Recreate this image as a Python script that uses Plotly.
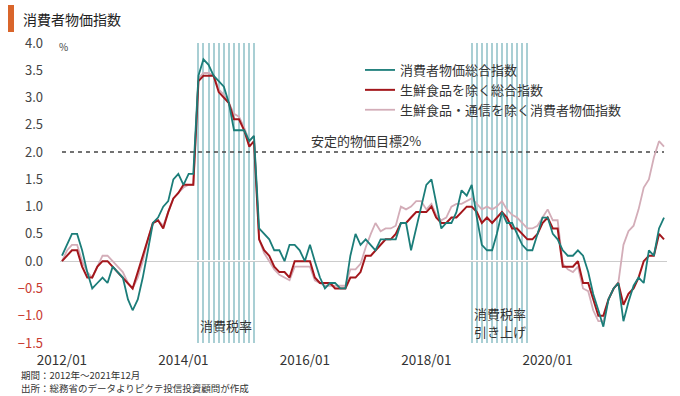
import plotly.graph_objects as go
import pandas as pd

# ---- data (YoY %, monthly 2012/01 - 2021/12) ----
months = pd.date_range("2012-01-01", "2021-12-01", freq="MS")

cpi_all = [
    0.1, 0.3, 0.5, 0.5, 0.2, -0.2, -0.5, -0.4, -0.3, -0.4, -0.1, -0.2,   # 2012
    -0.3, -0.7, -0.9, -0.7, -0.3, 0.2, 0.7, 0.8, 1.0, 1.1, 1.5, 1.6,     # 2013
    1.4, 1.6, 1.6, 3.4, 3.7, 3.6, 3.4, 3.3, 3.2, 2.9, 2.4, 2.4,          # 2014
    2.4, 2.2, 2.3, 0.6, 0.5, 0.4, 0.2, 0.2, 0.0, 0.3, 0.3, 0.2,          # 2015
    0.0, 0.3, 0.0, -0.3, -0.5, -0.4, -0.4, -0.5, -0.5, 0.1, 0.5, 0.3,    # 2016
    0.4, 0.3, 0.2, 0.4, 0.4, 0.4, 0.4, 0.7, 0.7, 0.2, 0.6, 1.0,          # 2017
    1.4, 1.5, 1.1, 0.6, 0.7, 0.7, 0.9, 1.3, 1.2, 1.4, 0.8, 0.3,          # 2018
    0.2, 0.2, 0.5, 0.9, 0.7, 0.7, 0.5, 0.3, 0.2, 0.2, 0.5, 0.8,          # 2019
    0.8, 0.5, 0.4, 0.2, 0.1, 0.1, 0.2, 0.1, -0.2, -0.6, -0.9, -1.2,      # 2020
    -0.7, -0.5, -0.4, -1.1, -0.75, -0.45, -0.3, -0.4, 0.2, 0.1, 0.6, 0.8,  # 2021
]

cpi_core = [
    0.0, 0.1, 0.2, 0.2, -0.1, -0.3, -0.3, -0.1, 0.0, 0.0, -0.1, -0.2,    # 2012
    -0.3, -0.4, -0.5, -0.2, 0.1, 0.4, 0.7, 0.75, 0.6, 0.9, 1.15, 1.25,   # 2013
    1.4, 1.4, 1.4, 3.3, 3.4, 3.4, 3.4, 3.1, 3.0, 2.9, 2.6, 2.6,          # 2014
    2.4, 2.1, 2.2, 0.4, 0.2, 0.1, -0.1, -0.2, -0.2, -0.3, 0.0, 0.0,      # 2015
    0.0, 0.0, -0.3, -0.4, -0.4, -0.4, -0.5, -0.5, -0.5, -0.3, -0.3, -0.2,  # 2016
    0.1, 0.1, 0.2, 0.3, 0.4, 0.4, 0.5, 0.7, 0.7, 0.8, 0.9, 0.9,          # 2017
    0.9, 1.0, 0.8, 0.7, 0.7, 0.8, 0.8, 0.9, 1.0, 1.0, 0.9, 0.7,          # 2018
    0.8, 0.7, 0.8, 0.9, 0.8, 0.6, 0.6, 0.5, 0.4, 0.4, 0.5, 0.7,          # 2019
    0.8, 0.6, 0.6, -0.1, -0.1, -0.1, 0.0, -0.4, -0.4, -0.7, -1.0, -1.0,  # 2020
    -0.7, -0.5, -0.4, -0.8, -0.6, -0.5, -0.3, 0.0, 0.1, 0.1, 0.5, 0.4,   # 2021
]

cpi_core_ex_tel = [
    0.0, 0.2, 0.3, 0.3, 0.0, -0.2, -0.3, -0.1, 0.1, 0.1, 0.0, -0.1,      # 2012
    -0.2, -0.4, -0.5, -0.3, 0.0, 0.4, 0.7, 0.75, 0.65, 0.9, 1.15, 1.25,  # 2013
    1.35, 1.4, 1.4, 3.35, 3.45, 3.45, 3.4, 3.15, 3.05, 2.9, 2.7, 2.65,   # 2014
    2.45, 2.2, 2.3, 0.4, 0.15, 0.0, -0.15, -0.25, -0.3, -0.35, -0.1, -0.1,  # 2015
    -0.1, -0.1, -0.35, -0.4, -0.45, -0.45, -0.45, -0.45, -0.45, -0.15, -0.15, -0.05,  # 2016
    0.25, 0.5, 0.7, 0.55, 0.6, 0.6, 0.65, 1.0, 0.95, 1.0, 1.1, 1.1,      # 2017
    0.95, 1.05, 0.85, 0.75, 0.8, 1.0, 1.05, 1.05, 1.1, 1.15, 1.05, 0.95,  # 2018
    1.0, 0.95, 1.0, 1.1, 0.95, 0.85, 0.8, 0.7, 0.6, 0.6, 0.65, 0.8,      # 2019
    0.95, 0.75, 0.75, -0.05, -0.15, -0.2, -0.1, -0.5, -0.55, -0.9, -1.1, -1.1,  # 2020
    -0.7, -0.5, -0.4, 0.3, 0.55, 0.65, 0.95, 1.35, 1.5, 1.9, 2.2, 2.1,   # 2021
]

series_names = ["消費者物価総合指数", "生鮮食品を除く総合指数", "生鮮食品・通信を除く消費者物価指数"]

tax_period_1 = pd.date_range("2014-04-01", "2015-03-01", freq="MS")
tax_period_2 = pd.date_range("2018-10-01", "2019-09-01", freq="MS")
target_rate = 2.0
y_min, y_max = -1.5, 4.0
y_tickvals = [4.0, 3.5, 3.0, 2.5, 2.0, 1.5, 1.0, 0.5, 0.0, -0.5, -1.0, -1.5]

# ---- styles ----
FONT = "Noto Sans CJK JP"
C_ALL = "#1b7d79"
C_CORE = "#a3161b"
C_EXT = "#d3adb8"
C_STRIPE = "#a9cfd4"
GAP = 0.02

fig = go.Figure()

stripe_months = list(tax_period_1) + list(tax_period_2)
fig.add_trace(go.Bar(
    x=stripe_months, y=[y_max - GAP] * len(stripe_months), base=GAP,
    width=1.05e9, marker=dict(color=C_STRIPE, line=dict(width=0)),
    showlegend=False, hoverinfo="skip"))
fig.add_trace(go.Bar(
    x=stripe_months, y=[y_min + GAP] * len(stripe_months), base=-GAP,
    width=1.05e9, marker=dict(color=C_STRIPE, line=dict(width=0)),
    showlegend=False, hoverinfo="skip"))

# target line
fig.add_trace(go.Scatter(
    x=[months[0], months[-1]], y=[target_rate, target_rate], mode="lines",
    line=dict(color="#444444", width=1.5, dash="4px,4px"),
    showlegend=False, hoverinfo="skip"))

fig.add_trace(go.Scatter(x=months, y=cpi_core_ex_tel, mode="lines", name=series_names[2],
                         line=dict(color=C_EXT, width=1.8), legendrank=3))
fig.add_trace(go.Scatter(x=months, y=cpi_core, mode="lines", name=series_names[1],
                         line=dict(color=C_CORE, width=2.0), legendrank=2))
fig.add_trace(go.Scatter(x=months, y=cpi_all, mode="lines", name=series_names[0],
                         line=dict(color=C_ALL, width=1.8), legendrank=1))

def fmt(v):
    s = f"{abs(v):.1f}"
    if v < 0:
        return f'<span style="color:#c8392f">−{s}</span>'
    return s

L, R, T, B = 60, 13, 43, 53
W, H = 680, 396
pw, ph = W - L - R, H - T - B

def px(xp):
    return (xp - L) / pw

def py(yp):
    return (H - B - yp) / ph

fig.update_layout(
    width=W, height=H, margin=dict(l=L, r=R, t=T, b=B),
    paper_bgcolor="white", plot_bgcolor="white",
    barmode="overlay", bargap=0,
    font=dict(family=FONT, color="#333333", size=13),
    showlegend=True,
    legend=dict(x=px(360), y=py(55), xanchor="left", yanchor="top",
                bgcolor="rgba(0,0,0,0)", font=dict(size=13, color="#333333"),
                itemwidth=30, tracegroupgap=0),
    xaxis=dict(type="date", range=["2011-12-20", "2021-12-19"],
               tick0="2012-01-01", dtick="M24", tickformat="%Y/%m",
               showgrid=False, zeroline=False, showline=False,
               ticks="outside", ticklen=5, tickcolor="rgba(0,0,0,0)",
               tickfont=dict(size=13.5, color="#333333")),
    yaxis=dict(range=[y_min, y_max], tickvals=y_tickvals,
               ticktext=[fmt(v) for v in y_tickvals],
               showgrid=False, zeroline=True, zerolinecolor="#cccccc", zerolinewidth=1,
               showline=False, ticks="", ticklabelstandoff=16,
               tickfont=dict(size=13, color="#444444")),
    shapes=[dict(type="rect", xref="paper", yref="paper",
                 x0=px(8), x1=px(14), y0=py(32), y1=py(5),
                 fillcolor="#d9652b", line=dict(width=0))],
    annotations=[
        dict(text="消費者物価指数", xref="paper", yref="paper", x=px(21), y=py(19),
             xanchor="left", yanchor="middle", showarrow=False,
             font=dict(size=14, color="#222222")),
        dict(text="%", xref="paper", yref="paper", x=px(57), y=py(47),
             xanchor="left", yanchor="middle", showarrow=False,
             font=dict(size=10, color="#444444")),
        dict(text="安定的物価目標2%", x="2017-01-01", y=target_rate + 0.22,
             xanchor="center", yanchor="middle", showarrow=False,
             font=dict(size=13, color="#333333")),
        dict(text="消費税率", x="2014-09-13", y=-1.17, xanchor="center", yanchor="middle",
             showarrow=False, font=dict(size=13, color="#333333")),
        dict(text="消費税率", x="2019-03-18", y=-0.95, xanchor="center",
             yanchor="middle", showarrow=False, font=dict(size=13, color="#333333")),
        dict(text="引き上げ", x="2019-03-18", y=-1.29, xanchor="center",
             yanchor="middle", showarrow=False, font=dict(size=13, color="#333333")),
        dict(text="期間：2012年～2021年12月", xref="paper", yref="paper", x=px(19), y=py(375),
             xanchor="left", yanchor="middle", showarrow=False,
             font=dict(size=9.5, color="#333333")),
        dict(text="出所：総務省のデータよりピクテ投信投資顧問が作成", xref="paper", yref="paper",
             x=px(19), y=py(388), xanchor="left", yanchor="middle", showarrow=False,
             font=dict(size=9.5, color="#333333")),
    ],
)

fig.write_html("out.html", config={"displayModeBar": False},
               post_script="document.body.style.margin='0';")
